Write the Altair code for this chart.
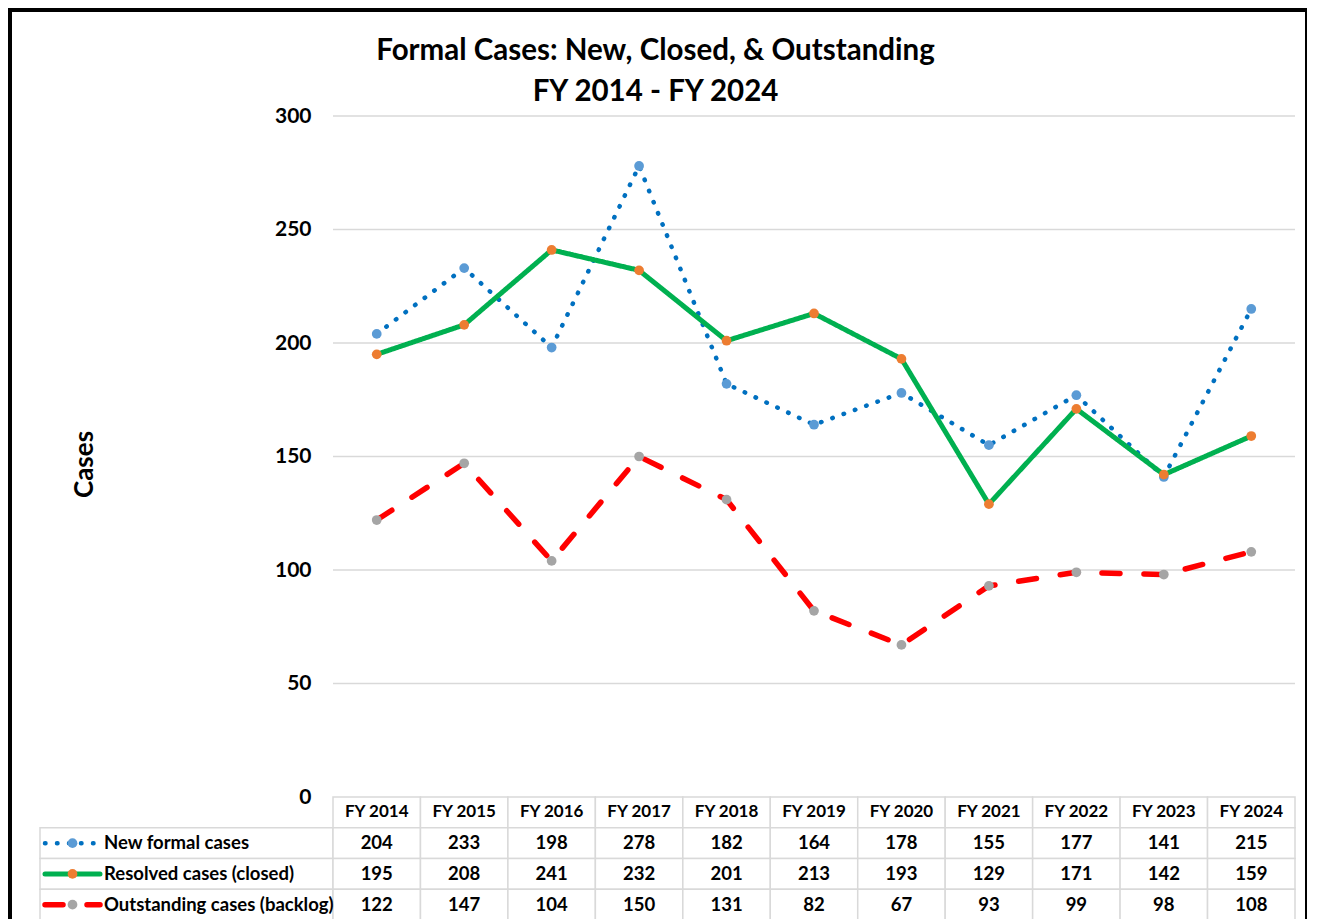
import altair as alt
import pandas as pd

# ---------------- data ----------------
years = ["FY 2014", "FY 2015", "FY 2016", "FY 2017", "FY 2018", "FY 2019",
         "FY 2020", "FY 2021", "FY 2022", "FY 2023", "FY 2024"]
series = ["New formal cases", "Resolved cases (closed)", "Outstanding cases (backlog)"]
new_cases = [204, 233, 198, 278, 182, 164, 178, 155, 177, 141, 215]
resolved = [195, 208, 241, 232, 201, 213, 193, 129, 171, 142, 159]
outstanding = [122, 147, 104, 150, 131, 82, 67, 93, 99, 98, 108]
y_ticks = [0, 50, 100, 150, 200, 250, 300]

line_colors = ["#0070C0", "#00B050", "#FF0000"]
marker_colors = ["#5B9BD5", "#ED7D31", "#A5A5A5"]
dash_styles = [[0.5, 11.5], [1, 0], [18, 24]]
line_widths = [4.5, 5.5, 5]

FONT = "Lato"

# ---------------- layout (pixels inside the bordered view) ----------------
VIEW_W, VIEW_H = 1297, 930
PX0, PX1 = 323, 1285                    # plot area left/right
UNIT = (PX1 - PX0) / len(years)          # one year column
def to_x(px):                            # pixel -> column units
    return (px - PX0) / UNIT

LABEL_LEFT = to_x(30)
SW0, SW1 = to_x(35), to_x(90)
SWM = (SW0 + SW1) / 2
TXT_LEFT = to_x(94)

xs = alt.Scale(domain=[0, len(years)], range=[PX0, PX1], nice=False, zero=False)
ys = alt.Scale(domain=[0, 300], range=[787, 106], nice=False, zero=False)
rs = alt.Scale(domain=[0, 4], range=[787, 910], nice=False, zero=False)

stroke_s = alt.Scale(domain=series, range=line_colors)
fill_s = alt.Scale(domain=series, range=marker_colors)
dash_s = alt.Scale(domain=series, range=dash_styles)
width_s = alt.Scale(domain=series, range=line_widths)

# ---------------- tables ----------------
vals = [new_cases, resolved, outstanding]
rows = []
for si, s in enumerate(series):
    for i, yr in enumerate(years):
        rows.append({"series": s, "year": yr, "xmid": i + 0.5, "value": vals[si][i]})
long_df = pd.DataFrame(rows)

grid_df = pd.DataFrame({"tick": y_ticks[1:]})

cells = []
for i, yr in enumerate(years):
    cells.append({"x0": i, "x1": i + 1, "r0": 0, "r1": 1, "xm": i + 0.5, "rm": 0.5,
                  "txt": yr, "kind": "head"})
for si, s in enumerate(series):
    cells.append({"x0": LABEL_LEFT, "x1": 0, "r0": si + 1, "r1": si + 2,
                  "xm": LABEL_LEFT, "rm": si + 1.5, "txt": "", "kind": "label"})
    for i, yr in enumerate(years):
        cells.append({"x0": i, "x1": i + 1, "r0": si + 1, "r1": si + 2,
                      "xm": i + 0.5, "rm": si + 1.5, "txt": str(vals[si][i]), "kind": "val"})
cells_df = pd.DataFrame(cells)

legend_df = pd.DataFrame({"series": series, "rm": [1.5, 2.5, 3.5]})

# ---------------- top: lines ----------------
grid = alt.Chart(grid_df).mark_rule(color="#D9D9D9", strokeWidth=1.5).encode(
    x=alt.XDatum(0, type="quantitative", scale=xs, axis=None),
    x2=alt.X2Datum(len(years)),
    y=alt.Y("tick:Q", scale=ys,
            axis=alt.Axis(values=y_ticks, offset=-PX0, grid=False, ticks=False, tickSize=0,
                          domain=False, labelPadding=22, labelFont=FONT, labelFontSize=21,
                          labelFontWeight="bold", labelColor="#000000",
                          title="Cases", titleFont=FONT, titleFontSize=26,
                          titleFontWeight="bold", titleColor="#000000", titleAngle=270,
                          titleX=92 - 333, titleY=454, titleAlign="center",
                          titleBaseline="alphabetic")),
)

lines = alt.Chart(long_df).mark_line(strokeCap="round", strokeJoin="round").encode(
    x=alt.X("xmid:Q", scale=xs, axis=None),
    y=alt.Y("value:Q", scale=ys),
    stroke=alt.Stroke("series:N", scale=stroke_s, legend=None),
    strokeDash=alt.StrokeDash("series:N", scale=dash_s, legend=None),
    strokeWidth=alt.StrokeWidth("series:N", scale=width_s, legend=None),
    order=alt.Order("xmid:Q"),
)

points = alt.Chart(long_df).mark_point(filled=True, opacity=1, size=95, shape="circle").encode(
    x=alt.X("xmid:Q", scale=xs, axis=None),
    y=alt.Y("value:Q", scale=ys),
    fill=alt.Fill("series:N", scale=fill_s, legend=None),
)

top = alt.layer(grid, lines, points)

# ---------------- bottom: data table ----------------
rects = alt.Chart(cells_df).mark_rect(fill="white", stroke="#D9D9D9", strokeWidth=1.5).encode(
    x=alt.X("x0:Q", scale=xs, axis=None),
    x2="x1:Q",
    y=alt.Y("r0:Q", scale=rs, axis=None),
    y2="r1:Q",
)

head_text = alt.Chart(cells_df).transform_filter(
    alt.datum.kind == "head"
).mark_text(font=FONT, fontSize=17, fontWeight="bold", color="#000000",
            align="center", baseline="middle").encode(
    x=alt.X("xm:Q", scale=xs, axis=None),
    y=alt.Y("rm:Q", scale=rs, axis=None),
    text="txt:N",
)

val_text = alt.Chart(cells_df).transform_filter(
    alt.datum.kind == "val"
).mark_text(font=FONT, fontSize=18.5, fontWeight="bold", color="#000000",
            align="center", baseline="middle").encode(
    x=alt.X("xm:Q", scale=xs, axis=None),
    y=alt.Y("rm:Q", scale=rs, axis=None),
    text="txt:N",
)

row_labels = alt.Chart(legend_df).mark_text(font=FONT, fontSize=18.5, fontWeight="bold",
                                            color="#000000", align="left",
                                            baseline="middle").encode(
    x=alt.XDatum(TXT_LEFT, type="quantitative", scale=xs, axis=None),
    y=alt.Y("rm:Q", scale=rs, axis=None),
    text="series:N",
)

swatch = alt.Chart(legend_df).mark_rule(strokeCap="round").encode(
    x=alt.XDatum(SW0, type="quantitative", scale=xs, axis=None),
    x2=alt.X2Datum(SW1),
    y=alt.Y("rm:Q", scale=rs, axis=None),
    stroke=alt.Stroke("series:N", scale=stroke_s, legend=None),
    strokeDash=alt.StrokeDash("series:N", scale=dash_s, legend=None),
    strokeWidth=alt.StrokeWidth("series:N", scale=width_s, legend=None),
)

swatch_pt = alt.Chart(legend_df).mark_point(filled=True, opacity=1, size=95, shape="circle").encode(
    x=alt.XDatum(SWM, type="quantitative", scale=xs, axis=None),
    y=alt.Y("rm:Q", scale=rs, axis=None),
    fill=alt.Fill("series:N", scale=fill_s, legend=None),
)

table = alt.layer(rects, head_text, val_text, row_labels, swatch, swatch_pt)

chart = alt.layer(top, table).resolve_scale(y="independent").properties(
    width=VIEW_W,
    height=VIEW_H,
    padding={"left": 2, "top": 2, "right": 0, "bottom": 0},
    title=alt.TitleParams(
        text=["Formal Cases: New, Closed, & Outstanding", "FY 2014 - FY 2024"],
        font=FONT, fontSize=29.5, fontWeight="bold", color="#000000",
        anchor="middle", frame="group", offset=-97, lineHeight=41, dx=-3,
    ),
).configure_view(stroke="black", strokeWidth=4)

chart.save("out.html", embed_options={"renderer": "svg", "actions": False})
